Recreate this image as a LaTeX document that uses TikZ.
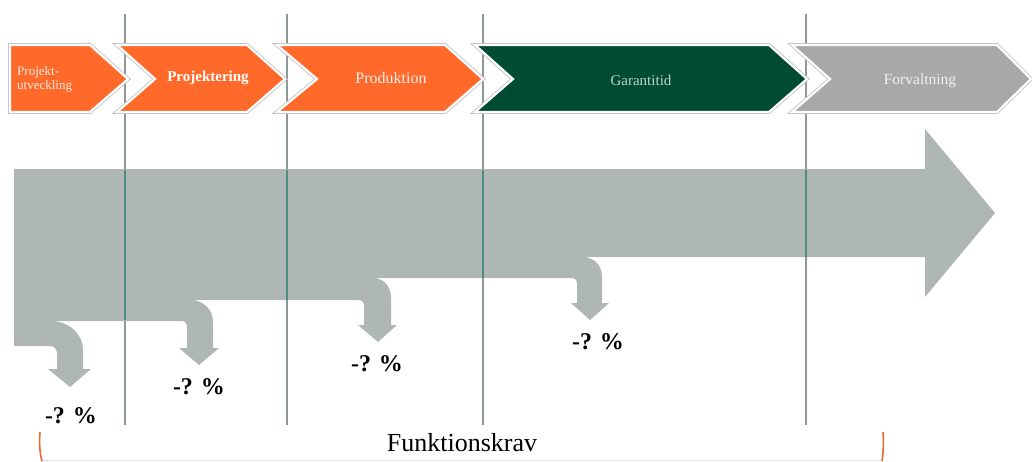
\documentclass[tikz,border=0pt]{standalone}
\usepackage{fontspec}
\setmainfont{Liberation Serif}
\usetikzlibrary{positioning}
\definecolor{phaseorange}{HTML}{FF6A2B}
\definecolor{phasegreen}{HTML}{004B33}
\definecolor{phasegray}{HTML}{A8A8A8}
\definecolor{bandgray}{HTML}{AEB7B3}
\definecolor{gridline}{HTML}{8E9895}
\definecolor{gridteal}{HTML}{4E8C80}
\definecolor{bracket}{HTML}{E8692E}
\newcommand{\fsz}[1]{\fontsize{#1}{#1}\selectfont}

\begin{document}
\begin{tikzpicture}[x=1pt, y=-1pt,
      phase/.style={draw=white, line width=2.2pt, line join=miter,
                    preaction={draw=black!25, line width=3.8pt}},
      phase label/.style={font=\fsz{14}, text=white, inner sep=0pt},
      grid/.style={gridline, line width=1.4pt},
      pct/.style={font=\bfseries\fsz{24}, inner sep=0pt},
      tick/.style={bracket, line width=1.6pt}
    ]
      \useasboundingbox (0,0) rectangle (1032,461);

      % Phase lines
      \foreach \x in {125,287,483,806}
        \draw[grid] (\x,14) -- (\x,425);

      % Phases
      \fill[phaseorange, phase] (10,45) -- (90,45) -- (128,79) -- (90,112) -- (10,112) -- cycle;
      \fill[phaseorange, phase] (117,45) -- (247,45) -- (285,79) -- (247,112) -- (117,112) -- (155,79) -- cycle;
      \fill[phaseorange, phase] (277,45) -- (445,45) -- (483,79) -- (445,112) -- (277,112) -- (317,79) -- cycle;
      \fill[phasegreen, phase] (475,45) -- (769,45) -- (807,79) -- (769,112) -- (475,112) -- (513,79) -- cycle;
      \fill[phasegray, phase] (792,45) -- (997,45) -- (1031,79) -- (997,112) -- (792,112) -- (830,79) -- cycle;

      \node[phase label, font=\fsz{13}, text=white!85!phaseorange, align=left, anchor=west] (utv) at (17,79) {Projekt-\\[1pt]utveckling};
      \node[phase label, font=\bfseries\fsz{15}] (proj) at (208,78) {Projektering};
      \node[phase label, font=\fsz{16}, text=white!90!phaseorange] (prod) at (391,78) {Produktion};
      \node[phase label, font=\fsz{15}, text=phasegreen!25!white] (gar) at (641,80) {Garantitid};
      \node[phase label, font=\fsz{15.5}, text=white!85!phasegray] (forv) at (920,81) {Forvaltning};

      % Band with bent arrows
      \fill[bandgray] (14,169) -- (925,169) -- (925,129) -- (995,213) -- (925,297) -- (925,257)
        -- (582,257) .. controls (594,257) and (602,265) .. (602,277) -- (602,303) -- (609,303) -- (590,320) -- (571,303) -- (577,303)
        -- (577,284) .. controls (577,280) and (575,278) .. (571,278)
        -- (372,278) .. controls (384,278) and (391,286) .. (391,298) -- (391,325) -- (397,325) -- (378,342) -- (358,325) -- (364,325)
        -- (364,306) .. controls (364,302) and (362,300) .. (358,300)
        -- (190,300) .. controls (203,300) and (213,309) .. (213,322) -- (213,348) -- (219,348) -- (199,365) -- (179,348) -- (187,348)
        -- (187,327) .. controls (187,323) and (185,321) .. (181,321)
        -- (50,321) .. controls (68,321) and (83,333) .. (83,350) -- (83,369) -- (91,369) -- (70,387) -- (48,369) -- (57,369)
        -- (57,353) .. controls (57,349) and (54,346) .. (50,346)
        -- (14,346) -- cycle;
      \foreach \x/\y in {125/320,287/300,483/278,806/257}
        \draw[grid, gridteal] (\x,169.5) -- (\x,\y);

      % Reductions
      \node[pct] (red1) at (71,416) {-? \%};
      \node[pct] (red2) at (199,387) {-? \%};
      \node[pct] (red3) at (377,364) {-? \%};
      \node[pct] (red4) at (598,342) {-? \%};

      % Requirements
      \draw[black!10, line width=0.6pt] (41,460.5) -- (882,460.5);
      \draw[tick] (40,432) .. controls (39,445) and (40,454) .. (42,461);
      \draw[tick] (883,432) .. controls (884,445) and (883,454) .. (882,461);
      \node[font=\fsz{26}, inner sep=0pt] (krav) at (462,443) {Funktionskrav};
    \end{tikzpicture}
\end{document}
